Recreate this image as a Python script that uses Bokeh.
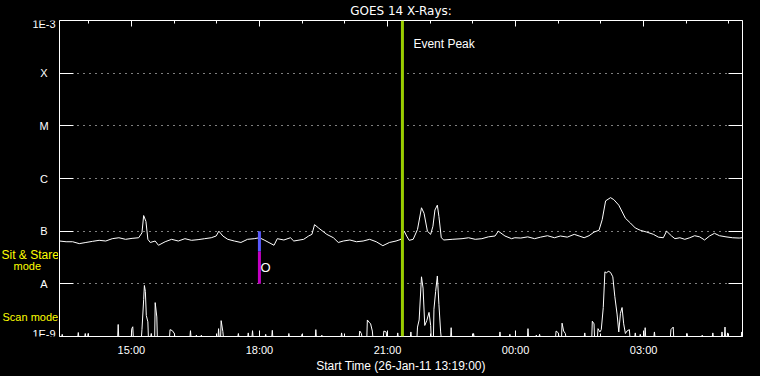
import pandas as pd
from bokeh.plotting import figure
from bokeh.layouts import row
from bokeh.models import (ColumnDataSource, DatetimeAxis, LogAxis, FixedTicker,
                          CustomJSTickFormatter, DatetimeTickFormatter, Label, Span, Range1d)
from bokeh.core.properties import value
from bokeh.embed import file_html
from bokeh.resources import INLINE

# ---------------- data ----------------
START = pd.Timestamp("2011-01-26 13:19:00")
SPAN_HOURS = 16
x_major_hours = [15, 18, 21, 24, 27]          # hours after 26-Jan 00:00
x_minor_hours = list(range(14, 30))

level_values = [1e-9, 1e-8, 1e-7, 1e-6, 1e-5, 1e-4, 1e-3]
level_labels = ["1E-9", "A", "B", "C", "M", "X", "1E-3"]

# GOES long-channel flux (units of 1e-8 W/m^2), minutes after start
goes_min = [0, 9.3, 18.5, 27.8, 37.1, 46.3, 55.7, 65.0, 74.2, 83.5,
            92.8, 102.0, 111.3, 115.9, 118.3, 121.5, 124.2, 127.6, 134.5, 139.1,
            148.5, 157.6, 167.0, 176.3, 185.5, 194.8, 204.1, 213.3, 220.2, 224.0,
            229.6, 236.5, 245.8, 255.0, 264.3, 273.7, 281.0, 287.6, 301.5, 306.1,
            315.4, 324.6, 329.3, 343.2, 350.2, 354.8, 358.5, 364.1, 375.7, 385.0,
            391.9, 398.9, 408.1, 417.4, 426.7, 435.9, 445.2, 454.5, 463.7, 473.0,
            480.0, 484.6, 487.9, 491.5, 497.1, 503.2, 508.8, 512.4, 517.1, 521.7,
            524.9, 527.7, 531.1, 533.3, 536.6, 540.2, 551.9, 565.8, 575.0, 584.3,
            593.7, 602.8, 612.2, 616.8, 626.1, 635.4, 640.0, 648.3, 658.1, 667.8,
            676.2, 685.9, 695.7, 704.0, 713.7, 723.5, 730.4, 737.4, 744.3, 751.3,
            758.3, 762.8, 767.6, 774.5, 779.1, 786.1, 795.4, 802.4, 809.3, 816.3,
            825.5, 834.8, 841.8, 848.7, 853.3, 860.3, 865.0, 872.0, 878.9, 885.9,
            892.8, 899.8, 906.7, 913.7, 920.6, 927.6, 936.8, 946.1, 955.4, 960.0]
goes_flux = [6.5, 6.3, 6.3, 5.8, 6.1, 6.4, 6.7, 6.5, 7.2, 7.5,
             7.0, 7.3, 7.5, 9.3, 19.8, 15.3, 7.0, 6.1, 6.5, 5.4,
             6.3, 7.0, 6.5, 7.2, 6.7, 6.9, 7.2, 7.5, 8.1, 10.0,
             8.1, 7.0, 6.5, 6.1, 7.0, 7.2, 7.5, 6.8, 5.4, 7.2,
             6.8, 7.5, 6.5, 7.0, 8.1, 8.7, 13.3, 11.5, 8.7, 7.5,
             6.1, 6.5, 6.8, 6.3, 6.5, 7.0, 6.3, 5.3, 6.1, 6.5,
             7.0, 10.0, 8.1, 6.7, 7.0, 10.8, 27.8, 21.8, 10.0, 8.7,
             12.4, 25.2, 31.2, 19.0, 7.5, 6.8, 7.0, 7.2, 7.5, 7.0,
             7.2, 7.8, 8.1, 10.0, 8.1, 7.2, 7.5, 7.4, 7.8, 7.2,
             7.7, 8.2, 7.5, 8.1, 7.7, 8.7, 8.1, 7.5, 8.2, 9.6,
             10.4, 16.5, 37.6, 43.3, 39.7, 31.2, 17.6, 14.3, 11.5, 10.4,
             9.6, 8.7, 7.7, 7.5, 10.0, 8.1, 7.2, 7.5, 7.0, 7.5,
             8.2, 7.8, 6.8, 8.1, 9.1, 8.2, 7.8, 7.5, 7.4, 7.5]

# scan-mode series (units of 1e-9), minutes after start; baseline = 1
scan_min = [3.8, 26.4, 36.2, 40.3, 82.5, 101.6, 103.0, 115.9, 118.3, 119.3,
            120.7, 122.0, 124.2, 129.0, 134.5, 136.8, 155.4, 158.6, 161.4, 184.1,
            192.4, 199.4, 223.6, 227.2, 229.6, 251.4, 265.3, 271.3, 289.8, 299.1,
            322.4, 340.9, 360.3, 368.7, 396.5, 422.0, 424.3, 432.7, 435.1, 437.3,
            439.7, 455.9, 459.1, 475.4, 493.9, 503.2, 505.5, 508.8, 511.0, 513.4,
            516.2, 519.4, 521.7, 526.3, 528.7, 531.1, 533.3, 535.7, 550.5, 582.0,
            619.1, 633.0, 658.5, 670.2, 674.8, 698.0, 701.2, 706.4, 708.6, 711.0,
            738.3, 748.9, 751.3, 756.9, 759.6, 761.5, 764.3, 766.6, 769.0, 771.2,
            774.5, 777.7, 780.5, 783.7, 786.1, 788.4, 790.7, 793.0, 795.4, 797.6,
            801.0, 809.3, 816.3, 823.2, 836.2, 859.4, 862.6, 882.1, 903.4, 918.3,
            931.2, 935.4, 939.1, 959.0]
scan_val = [1.10, 1.19, 1.14, 1.14, 1.69, 1.41, 1.53, 1.35, 5.0, 9.3,
            7.2, 2.5, 1.9, 1.14, 4.4, 2.35, 1.35, 1.29, 1.14, 1.29,
            1.06, 1.06, 1.41, 2.0, 1.24, 1.14, 1.17, 1.29, 1.10, 1.31,
            1.14, 1.10, 1.35, 1.06, 1.17, 1.27, 1.14, 2.06, 1.87, 1.74,
            1.27, 1.27, 1.22, 1.17, 1.22, 1.51, 2.06, 13.6, 8.3, 1.62,
            2.0, 2.87, 1.62, 3.3, 7.2, 14.1, 4.08, 1.22, 1.47, 1.14,
            1.22, 1.10, 1.41, 1.06, 1.10, 1.27, 1.17, 1.79, 1.27, 1.14,
            1.17, 1.95, 1.74, 1.41, 1.22, 1.35, 3.55, 16.9, 16.1, 17.4,
            16.5, 13.6, 5.8, 2.67, 1.22, 2.75, 3.55, 1.74, 1.14, 1.27,
            1.35, 1.17, 1.10, 1.47, 1.22, 1.35, 1.51, 1.14, 1.06, 1.17,
            1.22, 1.51, 1.17, 1.22]
scan_base = 1.0

event_peak = "2011-01-26 21:21"
mode_switch = "2011-01-26 18:00"
mode_top = [1e-7, 4.1e-8]
mode_bottom = [4.1e-8, 1e-8]
mode_colors = ["#5a5aff", "#c400c4"]

title_text = "GOES 14 X-Rays:"
xlabel_text = "Start Time (26-Jan-11 13:19:00)"

side_texts = ["Sit & Stare", "mode", "Scan mode"]
side_flux = [3.6e-8, 2.15e-8, 2.3e-9]          # vertical placement on the flux scale

# ---------------- helpers ----------------
EPOCH = pd.Timestamp("1970-01-01")


def ms(ts):
    return (pd.Timestamp(ts) - EPOCH).total_seconds() * 1000.0


def at_min(m):
    return START + pd.to_timedelta(m, unit="min")


END = START + pd.Timedelta(hours=SPAN_HOURS)
day0 = START.normalize()
major_ms = [ms(day0 + pd.Timedelta(hours=h)) for h in x_major_hours]
minor_ms = [ms(day0 + pd.Timedelta(hours=h)) for h in x_minor_hours]

# scan series with baseline returns between separated samples
GAP = 3.5
sx, sy = [START], [scan_base * 1e-9]
for i, (t, v) in enumerate(zip(scan_min, scan_val)):
    if i == 0 or t - scan_min[i - 1] > GAP:
        sx.append(at_min(t - 0.7)); sy.append(scan_base * 1e-9)
    sx.append(at_min(t)); sy.append(v * 1e-9)
    if i == len(scan_min) - 1 or scan_min[i + 1] - t > GAP:
        sx.append(at_min(t + 0.7)); sy.append(scan_base * 1e-9)
sx.append(END); sy.append(scan_base * 1e-9)

goes_src = ColumnDataSource(dict(t=[at_min(m) for m in goes_min],
                                 f=[v * 1e-8 for v in goes_flux]))
scan_src = ColumnDataSource(dict(t=sx, f=sy))
mode_src = ColumnDataSource(dict(t=[pd.Timestamp(mode_switch)] * 2, y0=mode_top,
                                 y1=mode_bottom, c=mode_colors))

# ---------------- layout constants ----------------
W, H = 760, 376
GUTTER = 58
TOP, BOTTOM, RIGHT = 19, 40, 18
TICK_FONT = "Liberation Sans"

y_range = Range1d(1e-9, 1e-3)

# ---------------- gutter (level names + mode notes) ----------------
g = figure(width=GUTTER, height=H, y_axis_type="log", x_range=Range1d(0, GUTTER),
           y_range=y_range, output_backend="svg", toolbar_location=None,
           x_axis_location=None, y_axis_location=None,
           min_border_left=0, min_border_right=0, min_border_top=TOP, min_border_bottom=BOTTOM,
           background_fill_color="black", border_fill_color="black", outline_line_color=None)
g.grid.visible = False
lvl_src = ColumnDataSource(dict(y=level_values, text=level_labels,
                                dy=[-3, 0, 0, 0, 0, 0, 3]))
g.text(x=43.5, y="y", text="text", y_offset="dy", source=lvl_src, text_color="white",
       text_align="center", text_baseline="middle",
       text_font=value(TICK_FONT), text_font_size=value("11px"))
side_src = ColumnDataSource(dict(y=side_flux, text=side_texts, x=[1, 13, 2],
                                 size=["12px", "11px", "11px"]))
g.text(x="x", y="y", text="text", source=side_src, text_color="#ffff00",
       text_align="left", text_baseline="middle",
       text_font=value(TICK_FONT), text_font_size="size")

# ---------------- main figure ----------------
p = figure(width=W - GUTTER, height=H, x_axis_type="datetime", y_axis_type="log",
           x_range=Range1d(START, END), y_range=y_range,
           output_backend="svg", toolbar_location=None,
           min_border_left=1, min_border_right=RIGHT, min_border_top=TOP, min_border_bottom=BOTTOM,
           background_fill_color="black", border_fill_color="black",
           outline_line_color="white", outline_line_width=1)

xticker = FixedTicker(ticks=major_ms, minor_ticks=minor_ms)
fmt = "%H:%M"
xfmt = DatetimeTickFormatter(minutes=fmt, hourmin=fmt, hours=fmt, days=fmt,
                             months=fmt, years=fmt, minsec=fmt, seconds=fmt)
yticker = FixedTicker(ticks=level_values, minor_ticks=[])
blank = CustomJSTickFormatter(code="return '';")


def style_axis(ax, tick_in, minor_in=0, labels=True):
    ax.axis_line_color = None          # the frame outline draws the box
    ax.major_tick_line_color = "white"
    ax.minor_tick_line_color = "white"
    ax.major_tick_in = tick_in
    ax.major_tick_out = 0
    ax.minor_tick_in = minor_in
    ax.minor_tick_out = 0
    ax.major_label_text_color = "white"
    ax.major_label_text_font = TICK_FONT
    ax.major_label_text_font_size = "11px" if labels else "0px"
    if not labels:
        ax.formatter = blank
        ax.major_label_standoff = 0


xb = p.xaxis[0]
xb.ticker = xticker
xb.formatter = xfmt
style_axis(xb, 6, 3)
xb.major_label_standoff = 7
xb.axis_label = xlabel_text
xb.axis_label_text_color = "white"
xb.axis_label_text_font = TICK_FONT
xb.axis_label_text_font_size = "12px"
xb.axis_label_text_font_style = "normal"
xb.axis_label_standoff = 0

xt = DatetimeAxis(ticker=xticker)
style_axis(xt, 6, 3, labels=False)
xt.axis_label = title_text
xt.axis_label_text_color = "white"
xt.axis_label_text_font = "DejaVu Sans"
xt.axis_label_text_font_size = "12px"
xt.axis_label_text_font_style = "normal"
xt.axis_label_standoff = 3
p.add_layout(xt, "above")

yl = p.yaxis[0]
yl.ticker = yticker
style_axis(yl, 14, labels=False)

yr = LogAxis(ticker=yticker)
style_axis(yr, 14, labels=False)
p.add_layout(yr, "right")

p.xgrid.visible = False
p.ygrid.ticker = FixedTicker(ticks=level_values[1:-1])
p.ygrid.grid_line_color = "white"
p.ygrid.grid_line_dash = "1 5"
p.ygrid.grid_line_width = 1

# ---------------- glyphs ----------------
p.line("t", "f", source=scan_src, line_color="white", line_width=1)
p.line("t", "f", source=goes_src, line_color="white", line_width=1)
p.segment(x0="t", y0="y0", x1="t", y1="y1", color="c", line_width=3, source=mode_src)

p.add_layout(Span(location=ms(event_peak), dimension="height",
                  line_color="#9acd00", line_width=3))

# ---------------- annotations inside the frame ----------------
p.add_layout(Label(x=ms(event_peak), x_offset=11, y=3.6e-4,
                   text="Event Peak", text_align="left", text_baseline="middle",
                   text_color="white", text_font=TICK_FONT, text_font_size="12px"))
p.add_layout(Label(x=ms(mode_switch), x_offset=1, y=2.0e-8,
                   text="O", text_align="left", text_baseline="middle",
                   text_color="white", text_font=TICK_FONT, text_font_size="13px"))

layout = row(g, p, spacing=0, styles={"background-color": "black"})
open("out.html", "w").write(file_html(layout, INLINE))
